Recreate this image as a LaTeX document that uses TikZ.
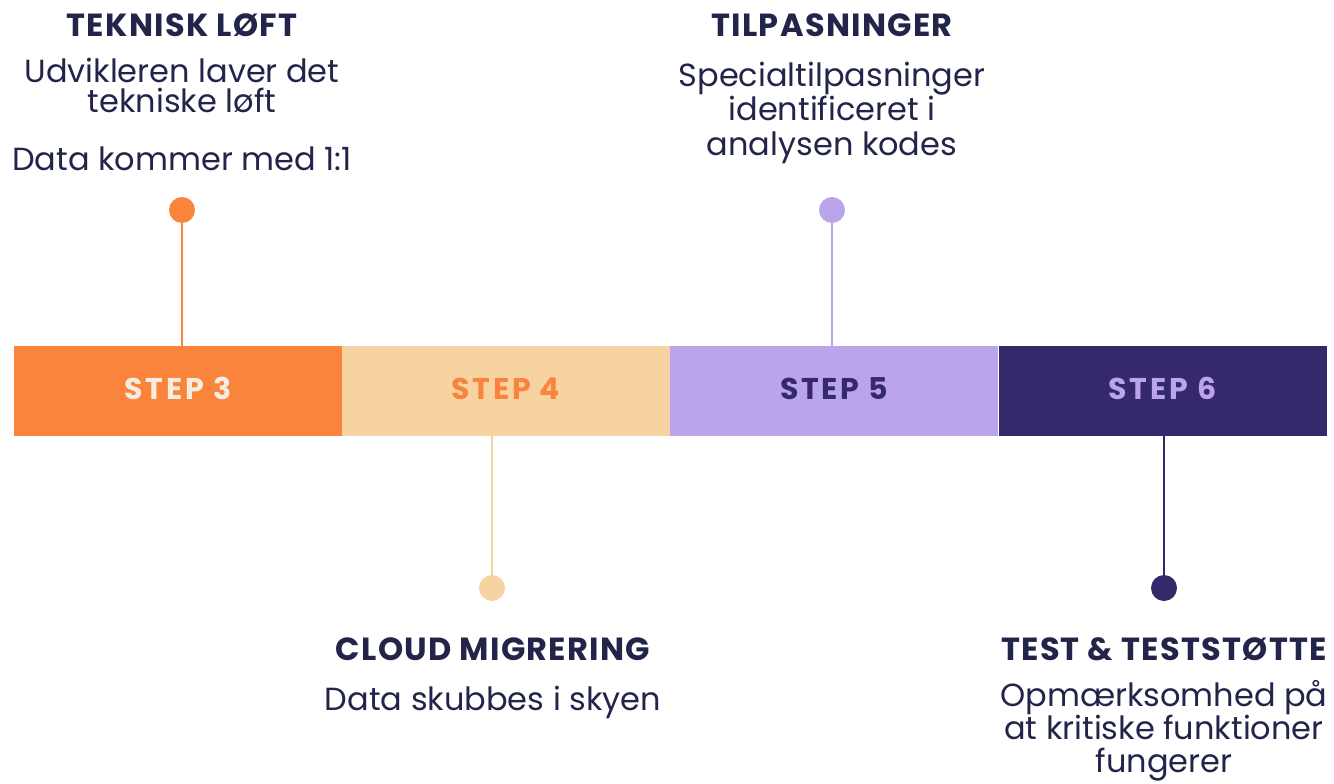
\documentclass[tikz,border=0pt]{standalone}
\usepackage{fontspec}
\setmainfont{Poppins}
\newfontfamily\stepfont{Poppins}[LetterSpace=9]
\newfontfamily\ttlfont{Poppins}[LetterSpace=4]
\definecolor{corange}{HTML}{FB843D}
\definecolor{cpeach}{HTML}{F8D3A2}
\definecolor{clav}{HTML}{BAA5EA}
\definecolor{cdark}{HTML}{35296B}
\definecolor{cnavy}{HTML}{22244A}
\definecolor{ccream}{HTML}{F5EEE0}
\tikzset{
  seg/.style={rectangle, minimum width=328, minimum height=90, inner sep=0pt,
    text height=22pt, text depth=6pt,
    font=\stepfont\fontsize{30}{32}\selectfont\bfseries},
  dot/.style={circle, minimum size=26, inner sep=0pt},
  stem/.style={line width=2.5pt},
  ttl/.style={anchor=base, inner sep=0pt, text=cnavy, font=\ttlfont\fontsize{32}{34}\selectfont\bfseries},
  desc/.style={anchor=base, inner sep=0pt, text=cnavy, align=center, font=\fontsize{32}{34.5}\selectfont},
}
\begin{document}
\begin{tikzpicture}[x=1pt,y=-1pt]
\useasboundingbox (0,0) rectangle (1334,784);
% bar
\node[seg, fill=corange, text=ccream] (s3) at (178,391) {STEP 3};
\node[seg, fill=cpeach, text=corange] (s4) at (506,391) {STEP 4};
\node[seg, fill=clav, text=cdark] (s5) at (834,391) {STEP 5};
\node[seg, fill=cdark, text=clav] (s6) at (1162.5,391) {STEP 6};
% dots
\node[dot, fill=corange] (d3) at (182,210) {};
\node[dot, fill=cpeach] (d4) at (492,588) {};
\node[dot, fill=clav] (d5) at (832,210) {};
\node[dot, fill=cdark] (d6) at (1164,588) {};
\draw[stem, corange] (d3) -- (d3 |- s3.north);
\draw[stem, cpeach] (d4) -- (d4 |- s4.south);
\draw[stem, clav] (d5) -- (d5 |- s5.north);
\draw[stem, cdark] (d6) -- (d6 |- s6.south);
% texts
\node[ttl] (t3) at (182,37) {TEKNISK LØFT};
\node[desc, font=\fontsize{32}{30}\selectfont] (a3) at (182,113) {Udvikleren laver det\\tekniske løft};
\node[desc] (b3) at (182,170) {Data kommer med 1:1};
\node[ttl] (t5) at (832,37) {TILPASNINGER};
\node[desc] (a5) at (832,155) {Specialtilpasninger\\identificeret i\\analysen kodes};
\node[ttl] (t4) at (493,660) {CLOUD MIGRERING};
\node[desc] (a4) at (493,710) {Data skubbes i skyen};
\node[ttl] (t6) at (1164,660) {TEST \& TESTSTØTTE};
\node[desc, font=\fontsize{32}{33}\selectfont] (a6) at (1164,772) {Opmærksomhed på\\at kritiske funktioner\\fungerer};
\end{tikzpicture}
\end{document}
